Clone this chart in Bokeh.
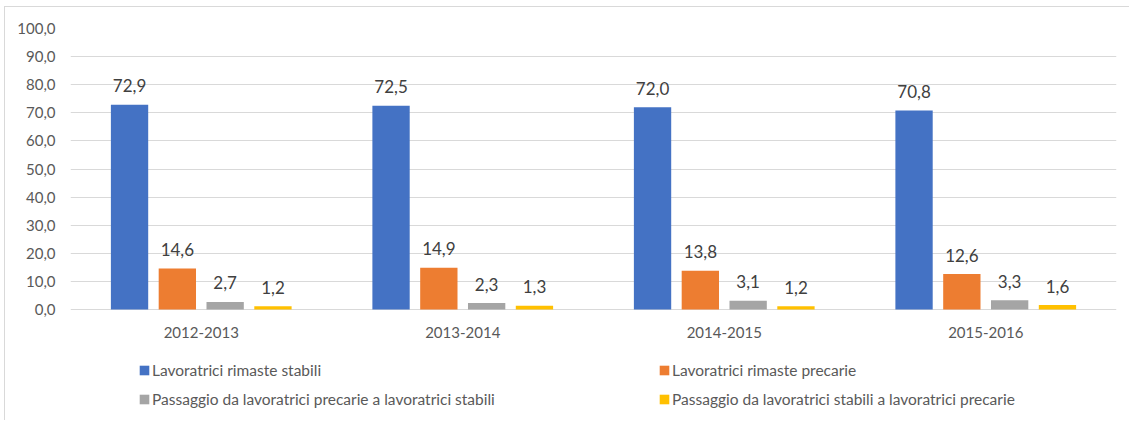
from bokeh.plotting import figure
from bokeh.models import (ColumnDataSource, FactorRange, Range1d, Legend, LegendItem,
                          LabelSet, FixedTicker, CustomJSTickFormatter)
from bokeh.transform import dodge
from bokeh.core.properties import value
from bokeh.embed import file_html
from bokeh.resources import INLINE

categories = ["2012-2013", "2013-2014", "2014-2015", "2015-2016"]
series_names = [
    "Lavoratrici rimaste stabili",
    "Lavoratrici rimaste precarie",
    "Passaggio da lavoratrici precarie a lavoratrici stabili",
    "Passaggio da lavoratrici stabili a lavoratrici precarie",
]
rimaste_stabili = [72.9, 72.5, 72.0, 70.8]
rimaste_precarie = [14.6, 14.9, 13.8, 12.6]
precarie_a_stabili = [2.7, 2.3, 3.1, 3.3]
stabili_a_precarie = [1.2, 1.3, 1.2, 1.6]
y_ticks = [0, 10, 20, 30, 40, 50, 60, 70, 80, 90, 100]

series = [rimaste_stabili, rimaste_precarie, precarie_a_stabili, stabili_a_precarie]
colors = ["#4472C4", "#ED7D31", "#A5A5A5", "#FFC000"]

FONT = "Lato"


def fmt(v):
    return f"{v:.1f}".replace(".", ",")


data = {"cat": categories}
for i, s in enumerate(series):
    data[f"s{i}"] = s
    data[f"t{i}"] = [fmt(v) for v in s]
src = ColumnDataSource(data)

# frame: top (100) at 21px, zero line at 302px, frame bottom at 412px
Y_BOTTOM = -(412 - 302) / (302 - 21) * 100

p = figure(x_range=FactorRange(*categories), y_range=Range1d(Y_BOTTOM, 100),
           x_axis_location=None,
           width=1125, height=414, output_backend="svg", toolbar_location=None,
           min_border_left=65, min_border_right=14, min_border_top=21,
           min_border_bottom=2)
p.styles = {"border-top": "1px solid #d9d9d9", "border-left": "1px solid #d9d9d9",
            "margin-left": "4px", "margin-top": "6px"}

bar_w = 0.1427
pitch = 0.1828
offsets = [-1.5 * pitch, -0.5 * pitch, 0.5 * pitch, 1.5 * pitch]

renderers = []
for i in range(4):
    r = p.vbar(x=dodge("cat", offsets[i], range=p.x_range), top=f"s{i}", width=bar_w,
               source=src, fill_color=colors[i], line_color=None)
    renderers.append(r)
    lbl = LabelSet(x=dodge("cat", offsets[i], range=p.x_range), y=f"s{i}", text=f"t{i}",
                   source=src, text_align="center", text_baseline="middle", y_offset=19,
                   text_font_size="17px", text_color="#404040", text_font=value(FONT))
    p.add_layout(lbl)

# category labels under the zero line
cat_lbl = LabelSet(x="cat", y=0, text="cat", source=src, text_align="center",
                   text_baseline="middle", y_offset=-23, text_font_size="15px",
                   text_color="#595959", text_font=value(FONT))
p.add_layout(cat_lbl)

p.outline_line_color = None
p.xgrid.grid_line_color = None
p.ygrid.grid_line_color = "#d9d9d9"
p.ygrid.grid_line_width = 1

p.yaxis.ticker = FixedTicker(ticks=y_ticks)
p.yaxis.formatter = CustomJSTickFormatter(code="return tick.toFixed(1).replace('.', ',');")
p.yaxis.axis_line_color = None
p.yaxis.major_tick_line_color = None
p.yaxis.minor_tick_line_color = None
p.yaxis.major_tick_out = 0
p.yaxis.major_tick_in = 0
p.yaxis.major_label_standoff = 15
p.yaxis.major_label_text_font_size = "15px"
p.yaxis.major_label_text_color = "#595959"
p.yaxis.major_label_text_font = FONT

legend_style = dict(orientation="vertical", glyph_width=12, glyph_height=12,
                    label_standoff=2, label_height=20, spacing=9, padding=0, margin=0,
                    border_line_color=None, background_fill_alpha=0,
                    label_text_font_size="15.5px", label_text_color="#595959",
                    label_text_font=FONT)
for col, idx in enumerate([(0, 2), (1, 3)]):
    items = [LegendItem(label=series_names[i], renderers=[renderers[i]]) for i in idx]
    leg = Legend(items=items, location=(68 + 520 * col, 10), **legend_style)
    p.add_layout(leg)

open("out.html", "w").write(file_html(p, INLINE))
